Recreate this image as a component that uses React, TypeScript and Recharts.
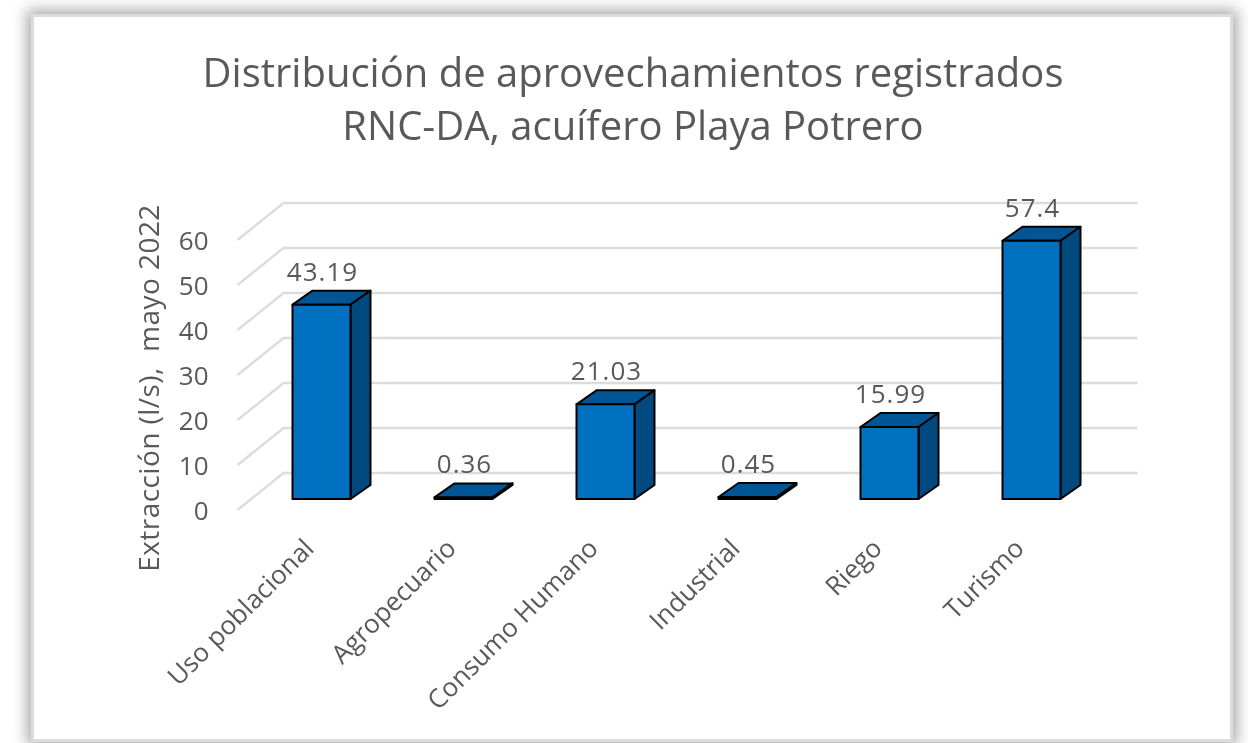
import { BarChart, Bar, XAxis, YAxis, CartesianGrid, LabelList } from "recharts";

const CATEGORIES = ["Uso poblacional", "Agropecuario", "Consumo Humano", "Industrial", "Riego", "Turismo"];
const EXTRACTION = [43.19, 0.36, 21.03, 0.45, 15.99, 57.4];
const Y_TICKS = [0, 10, 20, 30, 40, 50, 60];
const TITLE_LINES = ["Distribución de aprovechamientos registrados", "RNC-DA, acuífero Playa Potrero"];
const Y_LABEL = "Extracción (l/s),  mayo 2022";

const data = CATEGORIES.map((name, i) => ({ name, value: EXTRACTION[i] }));

const INK = "#595959";
const FONT = '"Open Sans", sans-serif';
const FRONT = "#0070c0";
const TOP = "#005595";
const SIDE = "#004a80";
const DEPTH_X = 20;
const DEPTH_Y = 14;

// fake excel 3d column: front, top and side faces
function Box3D({ x, y, width, height }: any) {
  const r = x + width;
  const b = y + height;
  return (
    <g stroke="#000" strokeWidth={2} strokeLinejoin="round">
      <path d={`M${x},${y} L${x + DEPTH_X},${y - DEPTH_Y} L${r + DEPTH_X},${y - DEPTH_Y} L${r},${y} Z`} fill={TOP} />
      <path d={`M${r},${y} L${r + DEPTH_X},${y - DEPTH_Y} L${r + DEPTH_X},${b - DEPTH_Y} L${r},${b} Z`} fill={SIDE} />
      <rect x={x} y={y} width={width} height={height} fill={FRONT} />
    </g>
  );
}

// wall + floor line of the 3d plot
function GridLine({ x1, x2, y1 }: any) {
  return (
    <path
      d={`M${x1 - 13},${y1 + 11} L${x1 + 33},${y1 - 26} L${x2 + 35},${y1 - 26}`}
      fill="none"
      stroke="#dcdcdc"
      strokeWidth={2.4}
    />
  );
}

function YTick({ x, y, payload }: any) {
  return (
    <text x={x - 34} y={y + 21} textAnchor="end" fontSize={26} fontFamily={FONT} fill={INK}>
      {payload.value}
    </text>
  );
}

function XTick({ x, y, payload }: any) {
  return (
    <text
      transform={`translate(${x - 6},${y + 43}) rotate(-45)`}
      textAnchor="end"
      fontSize={26}
      fontFamily={FONT}
      fill={INK}
    >
      {payload.value}
    </text>
  );
}

function ValueLabel({ x, y, width, value }: any) {
  return (
    <text
      x={x + width / 2 + 1}
      y={y - 24}
      textAnchor="middle"
      fontSize={26}
      letterSpacing={1}
      fontFamily={FONT}
      fill={INK}
    >
      {value}
    </text>
  );
}

export default function App() {
  return (
    <div
      style={{
        position: "fixed",
        left: 0,
        top: 0,
        width: 1248,
        height: 743,
        background: "#fff",
        overflow: "hidden",
        filter: "blur(0.5px)",
      }}
    >
      <div
        style={{
          position: "absolute",
          left: 34,
          top: 17,
          width: 1196,
          height: 722,
          background: "#fff",
          boxShadow: "0 0 0 3px #dcdcdc, 0 0 14px 7px #a8a8a8",
        }}
      />
      <div
        style={{
          position: "absolute",
          left: 34,
          top: 45,
          width: 1198,
          textAlign: "center",
          fontFamily: FONT,
          fontSize: 40,
          lineHeight: "53px",
          color: INK,
          whiteSpace: "nowrap",
        }}
      >
        {TITLE_LINES.map((line) => (
          <div key={line}>{line}</div>
        ))}
      </div>
      <div style={{ position: "absolute", left: 0, top: 0 }}>
        <BarChart
          width={1248}
          height={743}
          data={data}
          barSize={58}
          margin={{ top: 229, right: 145.5, bottom: 144, left: 190.5 }}
        >
          <CartesianGrid vertical={false} horizontal={(p: any) => <GridLine key={p.y1} {...p} />} />
          <XAxis dataKey="name" interval={0} height={100} axisLine={false} tickLine={false} tick={<XTick />} />
          <YAxis
            width={60}
            domain={[0, 60]}
            ticks={Y_TICKS}
            axisLine={false}
            tickLine={false}
            tick={<YTick />}
            label={{
              content: () => (
                <text
                  transform="translate(159,388) rotate(-90)"
                  textAnchor="middle"
                  fontSize={28}
                  letterSpacing={0.45}
                  fontFamily={FONT}
                  fill={INK}
                  style={{ whiteSpace: "pre" }}
                >
                  {Y_LABEL}
                </text>
              ),
            }}
          />
          <Bar dataKey="value" shape={<Box3D />} isAnimationActive={false}>
            <LabelList dataKey="value" content={<ValueLabel />} />
          </Bar>
        </BarChart>
      </div>
    </div>
  );
}
